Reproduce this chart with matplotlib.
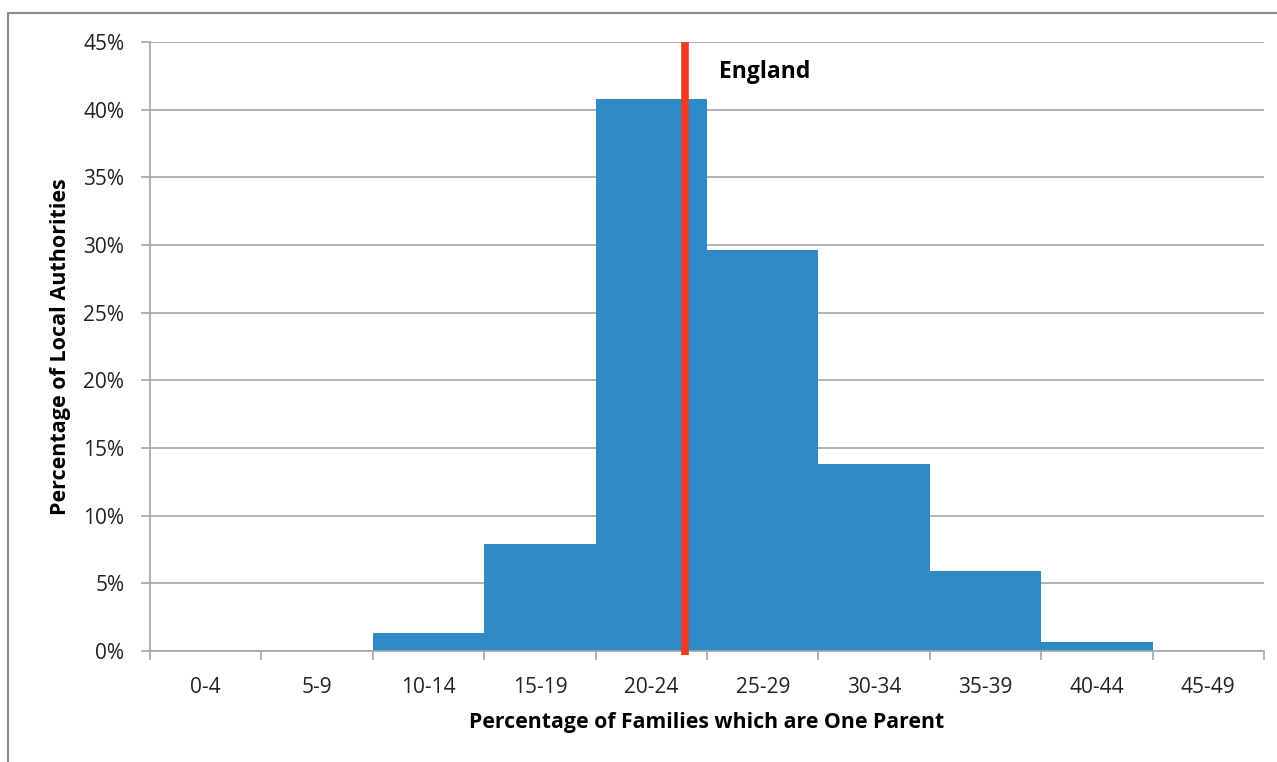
import numpy as np
import matplotlib.pyplot as plt
from matplotlib.patches import Rectangle
from matplotlib.ticker import PercentFormatter

plt.rcParams['font.family'] = ['Open Sans', 'DejaVu Sans']

# Данные гистограммы
categories = ['0-4', '5-9', '10-14', '15-19', '20-24', '25-29', '30-34', '35-39', '40-44', '45-49']
values = [0.0, 0.0, 1.3, 7.9, 40.8, 29.6, 13.8, 5.9, 0.7, 0.0]
england_pos = 4.30  # позиция линии по Англии (в единицах категорий)

fig = plt.figure(figsize=(12.77, 7.62), dpi=100)
ax = fig.add_axes([0.1175, 0.1457, 0.8723, 0.7992])

# рамка вокруг всей диаграммы
fig.patches.append(Rectangle((8 / 1277, -0.05), 1.1, 1 - 13 / 762 + 0.05,
                             transform=fig.transFigure, fill=False,
                             edgecolor='#8c8c8c', linewidth=1.5))

x = np.arange(len(categories))
ax.bar(x, values, width=1.0, color='#2E8BC6', zorder=2)

ax.axvline(england_pos, ymin=-0.006, ymax=1.0, color='#EE3B26', linewidth=5.5,
           zorder=3, clip_on=False, solid_capstyle='butt')
ax.text(england_pos + 0.31, 42.8, 'England', fontsize=16.5, fontweight='bold',
        va='center', ha='left')

ax.set_xlim(-0.5, len(categories) - 0.5)
ax.set_ylim(0, 45)
ax.set_yticks(np.arange(0, 46, 5))
ax.yaxis.set_major_formatter(PercentFormatter(decimals=0))
ax.set_xticks(x)
ax.set_xticklabels(categories)
ax.set_xticks(np.arange(-0.5, len(categories), 1.0), minor=True)

ax.grid(axis='y', color='#a6a6a6', linewidth=1.2, zorder=0)
ax.set_axisbelow(True)
for side in ['top', 'right']:
    ax.spines[side].set_visible(False)
ax.spines['left'].set_color('#a6a6a6')
ax.spines['bottom'].set_color('#a6a6a6')
ax.spines['left'].set_linewidth(1.2)
ax.spines['bottom'].set_linewidth(1.2)

ax.tick_params(axis='y', which='major', length=6.5, color='#a6a6a6', width=1.2,
               labelsize=15, pad=12, labelcolor='#222222')
ax.tick_params(axis='x', which='major', length=0, labelsize=15, pad=19,
               labelcolor='#222222')
ax.tick_params(axis='x', which='minor', length=6.5, color='#a6a6a6', width=1.2)

ax.set_xlabel('Percentage of Families which are One Parent', fontsize=15.3,
              fontweight='bold', labelpad=10)
ax.set_ylabel('Percentage of Local Authorities', fontsize=15.5,
              fontweight='bold', labelpad=9)

fig.savefig('out.png', dpi=100)
